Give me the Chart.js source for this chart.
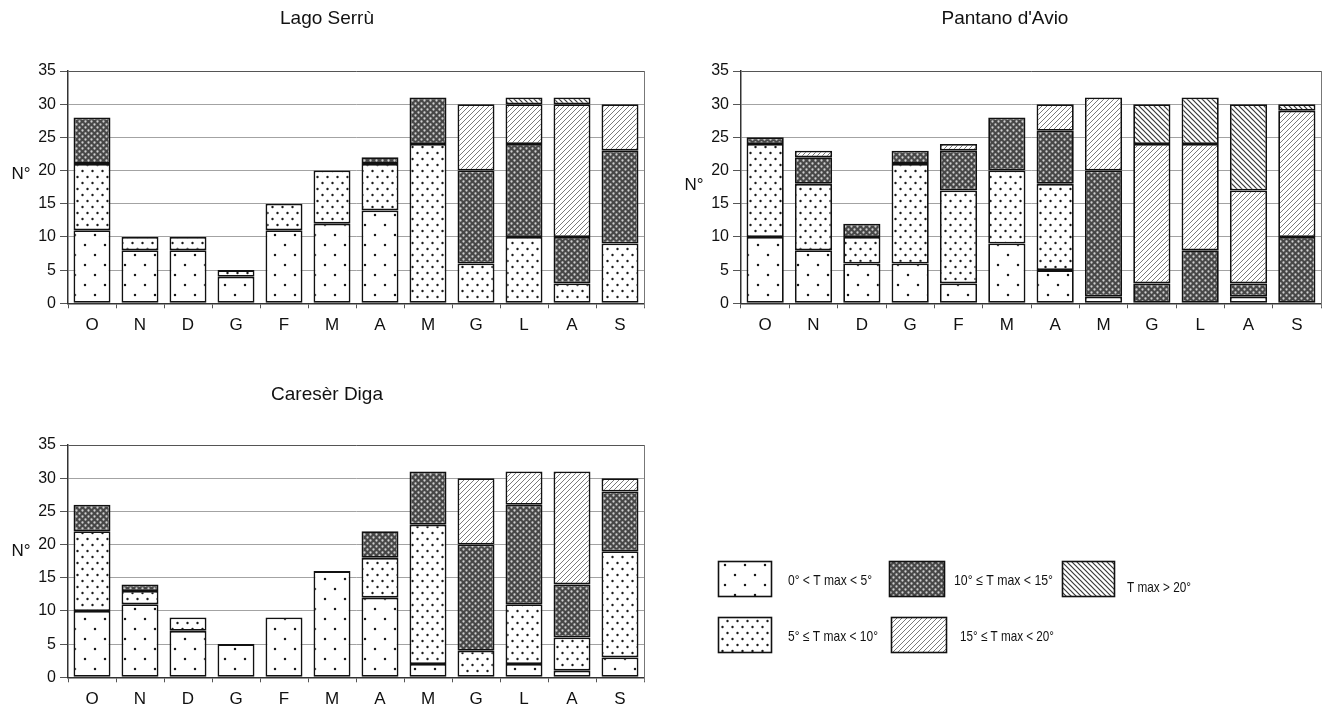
<!DOCTYPE html>
<html>
<head>
<meta charset="utf-8">
<title>Giorni per classe di temperatura massima</title>
<script src="https://cdn.jsdelivr.net/npm/chart.js@4.4.1/dist/chart.umd.min.js"></script>
<style>
  html, body { margin: 0; padding: 0; background: #fff; }
  #page { position: relative; width: 1333px; height: 716px; overflow: hidden; background: #fff; }
  canvas { position: absolute; }
</style>
</head>
<body>
<div id="page">
  <canvas id="serru"   width="660" height="350" style="left:0;top:0"></canvas>
  <canvas id="avio"    width="660" height="350" style="left:673px;top:0"></canvas>
  <canvas id="careser" width="660" height="350" style="left:0;top:374px"></canvas>
  <canvas id="legend"  width="633" height="140" style="left:700px;top:540px"></canvas>
</div>
<script>
// Months of the hydrological year (October → September)
const months = ['O', 'N', 'D', 'G', 'F', 'M', 'A', 'M', 'G', 'L', 'A', 'S'];

// Temperature classes (daily maximum)
const classLabels = [
  '0° < T max < 5°',
  '5° ≤ T max < 10°',
  '10° ≤ T max < 15°',
  '15° ≤ T max < 20°',
  'T max > 20°'
];

const yTicks = [0, 5, 10, 15, 20, 25, 30, 35];

// Lago Serrù – number of days per class
const serru0to5   = [11, 8, 8, 4, 11, 12, 14, 0, 0, 0, 0, 0];
const serru5to10  = [10, 2, 2, 1, 4, 8, 7, 24, 6, 10, 3, 9];
const serru10to15 = [7, 0, 0, 0, 0, 0, 1, 7, 14, 14, 7, 14];
const serru15to20 = [0, 0, 0, 0, 0, 0, 0, 0, 10, 6, 20, 7];
const serruOver20 = [0, 0, 0, 0, 0, 0, 0, 0, 0, 1, 1, 0];

// Pantano d'Avio
const avio0to5   = [10, 8, 6, 6, 3, 9, 5, 1, 0, 0, 1, 0];
const avio5to10  = [14, 10, 4, 15, 14, 11, 13, 0, 0, 0, 0, 0];
const avio10to15 = [1, 4, 2, 2, 6, 8, 8, 19, 3, 8, 2, 10];
const avio15to20 = [0, 1, 0, 0, 1, 0, 4, 11, 21, 16, 14, 19];
const avioOver20 = [0, 0, 0, 0, 0, 0, 0, 0, 6, 7, 13, 1];

// Caresèr Diga
const careser0to5   = [10, 11, 7, 5, 9, 16, 12, 2, 0, 2, 1, 3];
const careser5to10  = [12, 2, 2, 0, 0, 0, 6, 21, 4, 9, 5, 16];
const careser10to15 = [4, 1, 0, 0, 0, 0, 4, 8, 16, 15, 8, 9];
const careser15to20 = [0, 0, 0, 0, 0, 0, 0, 0, 10, 5, 17, 2];
const careserOver20 = [0, 0, 0, 0, 0, 0, 0, 0, 0, 0, 0, 0];

const FONT = "'Liberation Sans', Arial, Helvetica, sans-serif";
const INK = '#111';

// ---- fill textures for the five classes ----
function makeTile(w, h, draw) {
  const c = document.createElement('canvas');
  c.width = w; c.height = h;
  draw(c.getContext('2d'), w, h);
  return c;
}
function dot(g, x, y, r) { g.beginPath(); g.arc(x, y, r, 0, Math.PI * 2); g.fill(); }
function hatch(g, s, color, width, forward) {
  g.strokeStyle = color; g.lineWidth = width; g.beginPath();
  if (forward) {
    g.moveTo(0, s); g.lineTo(s, 0);
    g.moveTo(-1, 1); g.lineTo(1, -1);
    g.moveTo(s - 1, s + 1); g.lineTo(s + 1, s - 1);
  } else {
    g.moveTo(0, 0); g.lineTo(s, s);
    g.moveTo(s - 1, -1); g.lineTo(s + 1, 1);
    g.moveTo(-1, s - 1); g.lineTo(1, s + 1);
  }
  g.stroke();
}
const tiles = [
  makeTile(20, 20, (g, w, h) => { g.fillStyle = '#fff'; g.fillRect(0, 0, w, h); g.fillStyle = '#1a1a1a'; dot(g, 5, 5, 1.25); dot(g, 15, 15, 1.25); }),
  makeTile(10, 12, (g, w, h) => { g.fillStyle = '#fff'; g.fillRect(0, 0, w, h); g.fillStyle = '#1a1a1a'; dot(g, 2.5, 3, 1.2); dot(g, 7.5, 9, 1.2); }),
  makeTile(6, 6,   (g, w, h) => { g.fillStyle = '#474747'; g.fillRect(0, 0, w, h); g.fillStyle = '#d0d0d0'; dot(g, 1.5, 1.5, 1.15); dot(g, 4.5, 4.5, 1.15); }),
  makeTile(5, 5,   (g, w, h) => { g.fillStyle = '#fff'; g.fillRect(0, 0, w, h); hatch(g, 5, '#7a7a7a', 1, true); }),
  makeTile(5, 5,   (g, w, h) => { g.fillStyle = '#fff'; g.fillRect(0, 0, w, h); hatch(g, 5, '#3a3a3a', 1.2, false); })
];

// Title, unit label and right frame of each panel
const panelDecor = {
  id: 'panelDecor',
  afterDraw(chart, args, opts) {
    const { ctx, chartArea } = chart;
    ctx.save();
    ctx.strokeStyle = '#777';
    ctx.lineWidth = 1;
    ctx.beginPath();
    ctx.moveTo(Math.round(chartArea.right) + 0.5, chartArea.top);
    ctx.lineTo(Math.round(chartArea.right) + 0.5, chartArea.bottom + 4);
    ctx.stroke();
    ctx.fillStyle = INK;
    ctx.textAlign = 'center';
    ctx.textBaseline = 'middle';
    ctx.font = '19px ' + FONT;
    ctx.fillText(opts.title, opts.titleX, opts.titleY);
    ctx.font = '17px ' + FONT;
    ctx.fillText('N°', 21, opts.unitY);
    ctx.restore();
  }
};

function buildChart(id, series, decor, padRight) {
  const canvas = document.getElementById(id);
  const ctx = canvas.getContext('2d');
  const fills = tiles.map(t => ctx.createPattern(t, 'repeat'));
  return new Chart(ctx, {
    type: 'bar',
    data: {
      labels: months,
      datasets: series.map((vals, i) => ({
        label: classLabels[i],
        data: vals,
        backgroundColor: fills[i],
        borderColor: '#111',
        borderWidth: 1.8,
        borderSkipped: false,
        barPercentage: 0.77,
        categoryPercentage: 1
      }))
    },
    options: {
      responsive: false,
      animation: false,
      devicePixelRatio: 1,
      layout: { padding: { top: 71, left: 0, right: padRight, bottom: 6.7 } },
      plugins: {
        legend: { display: false },
        tooltip: { enabled: false },
        panelDecor: decor
      },
      scales: {
        x: {
          stacked: true,
          offset: true,
          grid: { display: true, drawOnChartArea: false, drawTicks: true, tickLength: 5, color: '#555', offset: true },
          border: { color: '#333', width: 1.5 },
          ticks: { color: INK, font: { family: FONT, size: 17 }, padding: 7, maxRotation: 0 },
          afterFit: s => { s.height = 40; }
        },
        y: {
          stacked: true,
          min: 0,
          max: 35,
          afterBuildTicks: s => { s.ticks = yTicks.map(v => ({ value: v })); },
          grid: {
            color: c => (c.tick && c.tick.value === 35 ? '#555' : '#a3a3a3'),
            tickColor: '#555',
            tickLength: 8,
            lineWidth: 1
          },
          border: { color: '#333', width: 1.5 },
          ticks: { color: INK, font: { family: FONT, size: 16 }, padding: 4 },
          afterFit: s => { s.width = 68; }
        }
      }
    },
    plugins: [panelDecor]
  });
}

buildChart('serru',
  [serru0to5, serru5to10, serru10to15, serru15to20, serruOver20],
  { title: 'Lago Serrù', titleX: 327, titleY: 19, unitY: 174 }, 16);

buildChart('avio',
  [avio0to5, avio5to10, avio10to15, avio15to20, avioOver20],
  { title: "Pantano d'Avio", titleX: 332, titleY: 19, unitY: 185 }, 12);

buildChart('careser',
  [careser0to5, careser5to10, careser10to15, careser15to20, careserOver20],
  { title: 'Caresèr Diga', titleX: 327, titleY: 21, unitY: 177 }, 16);

// ---- key of the temperature classes ----
(function drawKey() {
  const canvas = document.getElementById('legend');
  const g = canvas.getContext('2d');
  const ox = 700, oy = 540;
  const items = [
    { cls: 0, bx: 718,  by: 561, bw: 53, tx: 788,  ty: 581, tw: 84 },
    { cls: 1, bx: 718,  by: 617, bw: 53, tx: 788,  ty: 637, tw: 90 },
    { cls: 2, bx: 889,  by: 561, bw: 55, tx: 954,  ty: 581, tw: 99 },
    { cls: 3, bx: 891,  by: 617, bw: 55, tx: 960,  ty: 637, tw: 94 },
    { cls: 4, bx: 1062, by: 561, bw: 52, tx: 1127, ty: 588, tw: 64 }
  ];
  items.forEach(it => {
    const x = it.bx - ox, y = it.by - oy, h = 35;
    g.fillStyle = g.createPattern(tiles[it.cls], 'repeat');
    g.fillRect(x, y, it.bw, h);
    g.strokeStyle = '#111';
    g.lineWidth = 1.6;
    g.strokeRect(x + 0.5, y + 0.5, it.bw, h);
    g.fillStyle = INK;
    g.font = "15px 'Liberation Sans Narrow', " + FONT;
    g.textBaseline = 'middle';
    g.textAlign = 'left';
    g.fillText(classLabels[it.cls], it.tx - ox, it.ty - oy, it.tw);
  });
})();
</script>
</body>
</html>
